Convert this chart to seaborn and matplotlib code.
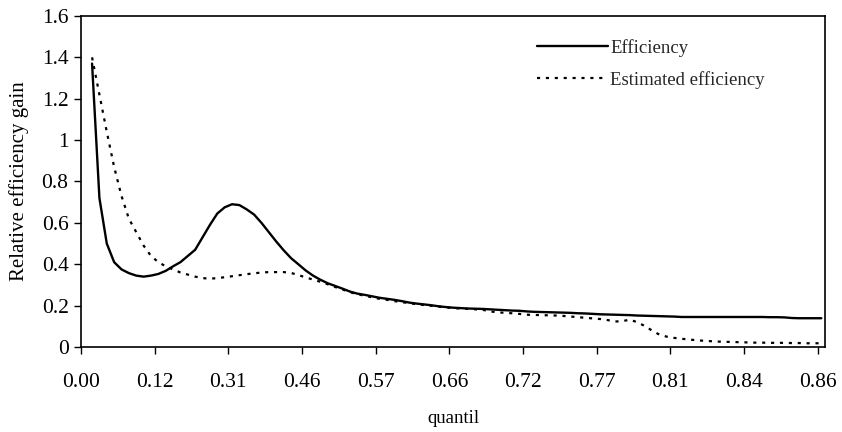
import numpy as np
import pandas as pd
import matplotlib
matplotlib.use("Agg")
import matplotlib.pyplot as plt
import seaborn as sns

# ---- data ----
tick_labels = ["0.00", "0.12", "0.31", "0.46", "0.57", "0.66",
               "0.72", "0.77", "0.81", "0.84", "0.86"]

efficiency = [
    1.37, 0.72, 0.50, 0.41, 0.375, 0.357, 0.345, 0.340, 0.345, 0.353,
    0.368, 0.390, 0.410, 0.440, 0.470, 0.530, 0.590, 0.645, 0.675, 0.690,
    0.686, 0.665, 0.640, 0.600, 0.555, 0.510, 0.468, 0.430, 0.400, 0.370,
    0.345, 0.325, 0.308, 0.295, 0.282, 0.268, 0.258, 0.252, 0.245, 0.238,
    0.233, 0.228, 0.222, 0.215, 0.210, 0.206, 0.202, 0.197, 0.193, 0.190,
    0.188, 0.186, 0.185, 0.184, 0.182, 0.180, 0.178, 0.176, 0.175, 0.172,
    0.170, 0.169, 0.168, 0.167, 0.166, 0.165, 0.163, 0.162, 0.160, 0.158,
    0.157, 0.156, 0.155, 0.154, 0.152, 0.151, 0.150, 0.149, 0.148, 0.147,
    0.145, 0.145, 0.145, 0.145, 0.145, 0.145, 0.145, 0.145, 0.145, 0.145,
    0.145, 0.145, 0.144, 0.144, 0.143, 0.140, 0.139, 0.139, 0.139, 0.139,
]

estimated = [
    1.40, 1.22, 1.04, 0.87, 0.73, 0.62, 0.555, 0.49, 0.44, 0.41,
    0.39, 0.375, 0.36, 0.35, 0.34, 0.333, 0.330, 0.333, 0.337, 0.342,
    0.347, 0.352, 0.356, 0.360, 0.362, 0.362, 0.362, 0.358, 0.348, 0.336,
    0.326, 0.315, 0.303, 0.290, 0.278, 0.265, 0.255, 0.248, 0.240, 0.233,
    0.228, 0.222, 0.217, 0.212, 0.207, 0.203, 0.199, 0.195, 0.191, 0.188,
    0.186, 0.184, 0.182, 0.180, 0.172, 0.168, 0.165, 0.163, 0.160, 0.156,
    0.155, 0.154, 0.153, 0.152, 0.150, 0.147, 0.144, 0.141, 0.138, 0.135,
    0.130, 0.123, 0.125, 0.132, 0.120, 0.102, 0.080, 0.060, 0.050, 0.044,
    0.040, 0.036, 0.033, 0.030, 0.028, 0.026, 0.025, 0.024, 0.023, 0.022,
    0.021, 0.021, 0.020, 0.020, 0.020, 0.019, 0.019, 0.018, 0.018, 0.018,
]

# category positions (Excel-style bands, first band empty)
n_cat = 101
pos = np.arange(1, n_cat) + 0.5
tick_pos = np.arange(0, n_cat, 10)

df = pd.DataFrame({"pos": pos, "Efficiency": efficiency,
                   "Estimated efficiency": estimated})

sns.set_theme(style="white")
plt.rcParams["font.family"] = ["Liberation Serif", "DejaVu Serif"]

fig = plt.figure(figsize=(8.42, 4.32), dpi=100)
ax = fig.add_axes([0.0962, 0.1968, 0.8836, 0.7662])

sns.lineplot(data=df, x="pos", y="Efficiency", ax=ax, color="black",
             lw=1.7, label="Efficiency")
sns.lineplot(data=df, x="pos", y="Estimated efficiency", ax=ax,
             color="black", lw=1.6, label="Estimated efficiency")
ax.lines[1].set_dashes((1.4, 2.6))

ax.set_xlim(0, n_cat)
ax.set_ylim(0, 1.6)
ax.set_xticks(tick_pos)
ax.set_xticklabels(tick_labels)
yt = np.round(np.arange(0, 1.61, 0.2), 1)
ax.set_yticks(yt)
ax.set_yticklabels(["%g" % v for v in yt])

ax.tick_params(axis="both", which="major", direction="out", length=5,
               width=1, color="black", labelsize=15.5, labelcolor="black",
               bottom=True, left=True)
ax.tick_params(axis="x", pad=14)
ax.tick_params(axis="y", pad=4)

for s in ax.spines.values():
    s.set_color("black")
    s.set_linewidth(1.2)

ax.set_xlabel("quantil", fontsize=13.5, color="black", labelpad=13)
ax.set_ylabel("Relative efficiency gain", fontsize=15, color="black",
              labelpad=9)

leg = ax.legend(loc="upper left", bbox_to_anchor=(0.603, 0.953),
                frameon=False, fontsize=13.5, handlelength=3.8,
                handletextpad=0.1, labelspacing=0.76, borderaxespad=0)

fig.savefig("out.png", dpi=100)
